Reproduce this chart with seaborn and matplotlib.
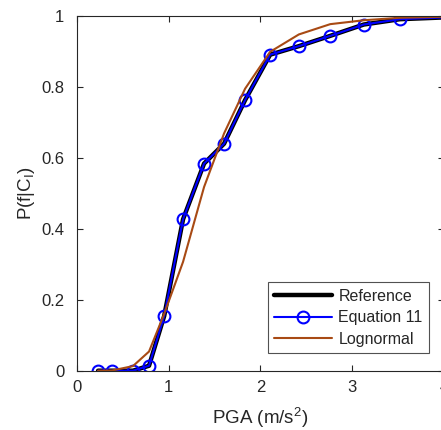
import matplotlib
matplotlib.use("Agg")
import matplotlib.pyplot as plt
import seaborn as sns
import pandas as pd

# Data
pga = [0.23, 0.38, 0.61, 0.785, 0.95, 1.156, 1.385, 1.603, 1.832, 2.105, 2.418, 2.76, 3.126, 3.52, 4.3]
reference = [0.0, 0.0, 0.0, 0.014, 0.154, 0.427, 0.584, 0.640, 0.763, 0.891, 0.915, 0.944, 0.976, 0.991, 0.999]
equation11 = [0.0, 0.0, 0.0, 0.014, 0.154, 0.427, 0.584, 0.640, 0.763, 0.891, 0.915, 0.944, 0.976, 0.991, 0.999]
lognormal = [0.0, 0.0005, 0.013, 0.054, 0.16, 0.307, 0.518, 0.669, 0.795, 0.899, 0.948, 0.977, 0.988, 0.995, 0.9995]
x_ticks = [0, 1, 2, 3, 4]
y_ticks = [0, 0.2, 0.4, 0.6, 0.8, 1]

sns.set_theme(style="white")
plt.rcParams['font.family'] = ['Liberation Sans', 'DejaVu Sans']
plt.rcParams['mathtext.fontset'] = 'custom'
plt.rcParams['mathtext.rm'] = 'Liberation Sans'

df = pd.DataFrame({"PGA": pga, "Reference": reference,
                   "Equation 11": equation11, "Lognormal": lognormal})

fig = plt.figure(figsize=(4.41, 4.30), dpi=100)
ax = fig.add_axes([0.1746, 0.1379, 0.8322, 0.8249])

sns.lineplot(data=df, x="PGA", y="Reference", ax=ax, color="black", linewidth=3.2,
             label="Reference", sort=False)
sns.lineplot(data=df, x="PGA", y="Equation 11", ax=ax, color="#0000FF", linewidth=1.5,
             marker="o", markersize=8.5, markerfacecolor="none", markeredgecolor="#0000FF",
             markeredgewidth=1.5, label="Equation 11", sort=False)
sns.lineplot(data=df, x="PGA", y="Lognormal", ax=ax, color="#A84A14", linewidth=1.5,
             label="Lognormal", sort=False)

ax.set_xlim(0, 4)
ax.set_ylim(0, 1)
ax.set_xticks(x_ticks)
ax.set_yticks(y_ticks)
ax.set_xticklabels([str(t) for t in x_ticks])
ax.set_yticklabels(["0", "0.2", "0.4", "0.6", "0.8", "1"])
ax.tick_params(direction="in", length=4, width=0.8, colors="#262626",
               labelsize=12, top=True, right=True, bottom=True, left=True,
               labelcolor="#262626")
ax.tick_params(axis="y", pad=9)
ax.tick_params(axis="x", pad=7)
for s in ax.spines.values():
    s.set_color("#262626")
    s.set_linewidth(0.8)

ax.set_xlabel("PGA (m/s$^2$)", fontsize=13.5, color="#262626", labelpad=7)
ax.set_ylabel("P(f|C$_\\mathregular{I}$)", fontsize=13.5, color="#262626", labelpad=3)

leg = ax.legend(loc="lower right", bbox_to_anchor=(0.959, 0.049), borderaxespad=0,
                fontsize=11.5, frameon=True, fancybox=False, handlelength=3.6,
                handletextpad=0.4, borderpad=0.4, labelspacing=0.42)
leg.get_frame().set_edgecolor("#262626")
leg.get_frame().set_linewidth(0.8)

fig.savefig("out.png", dpi=100)
